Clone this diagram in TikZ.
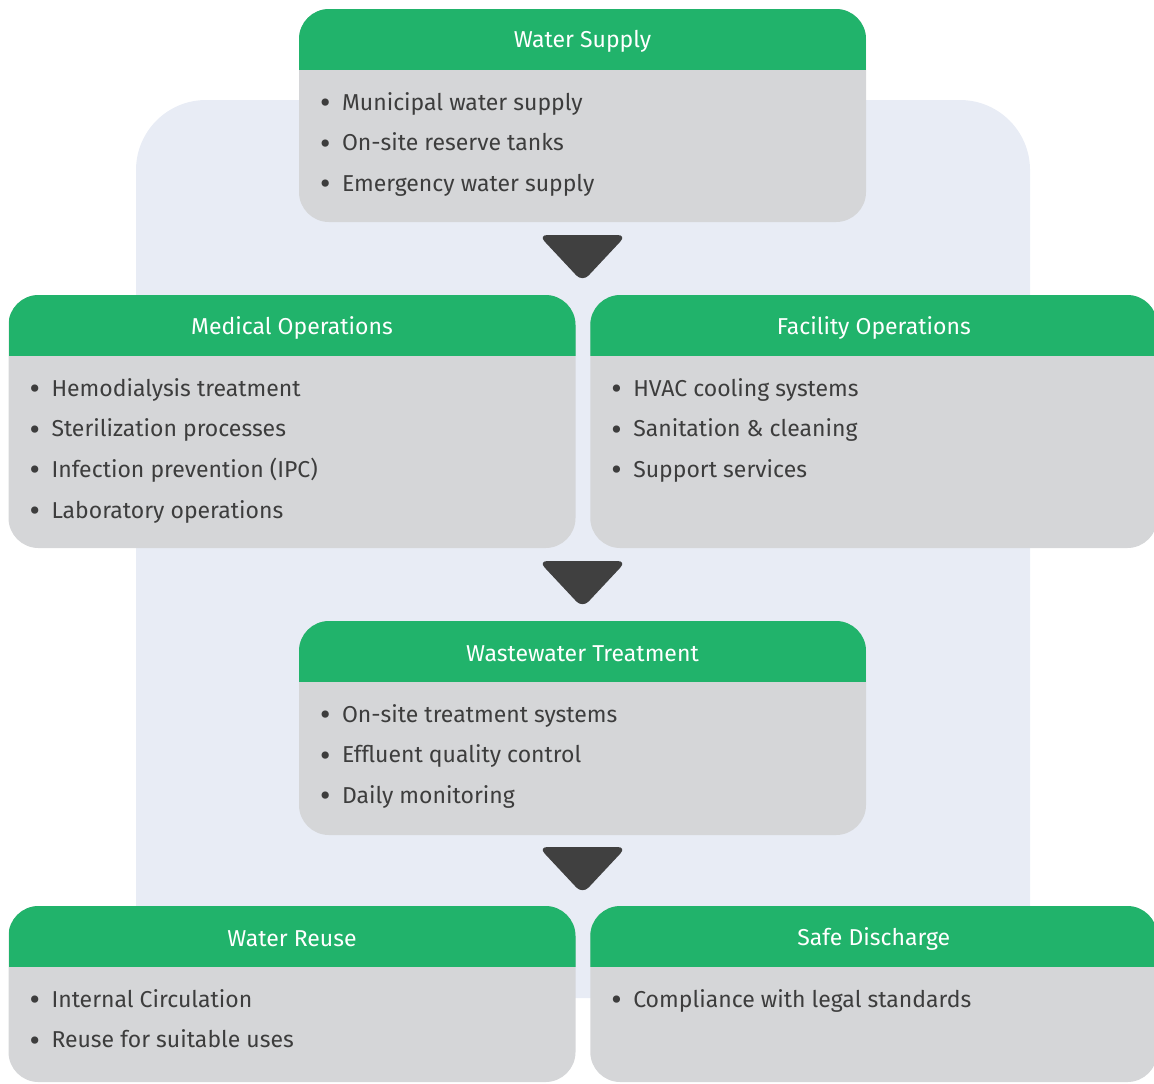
\documentclass[tikz,border=0pt]{standalone}
\usepackage{fontspec}
\setmainfont{Fira Sans}
\usepackage{xcolor}
\usetikzlibrary{positioning, calc}

\definecolor{headgreen}{HTML}{21B36B}
\definecolor{panelgray}{HTML}{D5D6D8}
\definecolor{backblue}{HTML}{E8ECF5}
\definecolor{tipgray}{HTML}{404040}
\definecolor{textgray}{HTML}{3D3D3D}

\begin{document}
\begin{tikzpicture}[
    x=0.5pt, y=-0.5pt,
    every node/.style={font=\fontsize{11.5}{14}\selectfont},
    backdrop/.style={fill=backblue, rounded corners=35pt, inner sep=0pt,
                     minimum width=447pt, minimum height=449pt},
    panel/.style={fill=panelgray, rounded corners=15pt, inner sep=0pt,
                  minimum width=283.5pt, minimum height=#1,
                  path picture={\fill[headgreen, sharp corners]
                    (path picture bounding box.north west) rectangle
                    ([yshift=-30.5pt]path picture bounding box.north east);}},
    headtext/.style={text=white, inner sep=0pt,
                     font=\fontsize{11.5}{14}\selectfont},
    item/.style={text=textgray, inner sep=0pt, text height=9pt, text depth=3pt},
    downtip/.style={fill=tipgray, rounded corners=4.5pt},
]
\useasboundingbox (0,0) rectangle (1154,1083);

% Backdrop
\node[backdrop] (frame) at (583,549) {};

% Water supply
\node[panel=106.5pt] (supply) at (582.5,115.5) {};
\node[headtext] (supplytitle) at ([yshift=-16.5pt]supply.north) {Water Supply};
\node[item, below right=41.5pt and 10.5pt of supply.north west] (supply1)
    {\makebox[11pt][l]{\raisebox{-1.6pt}{\fontsize{16}{14}\selectfont\textbullet}}Municipal water supply};
\node[item, below right=8pt and 0pt of supply1.south west] (supply2)
    {\makebox[11pt][l]{\raisebox{-1.6pt}{\fontsize{16}{14}\selectfont\textbullet}}On-site reserve tanks};
\node[item, below right=8pt and 0pt of supply2.south west] (supply3)
    {\makebox[11pt][l]{\raisebox{-1.6pt}{\fontsize{16}{14}\selectfont\textbullet}}Emergency water supply};

% Medical operations
\node[panel=126.5pt] (medical) at (292,421.5) {};
\node[headtext] (medicaltitle) at ([yshift=-16.5pt]medical.north) {Medical Operations};
\node[item, below right=41.5pt and 10.5pt of medical.north west] (medical1)
    {\makebox[11pt][l]{\raisebox{-1.6pt}{\fontsize{16}{14}\selectfont\textbullet}}Hemodialysis treatment};
\node[item, below right=8pt and 0pt of medical1.south west] (medical2)
    {\makebox[11pt][l]{\raisebox{-1.6pt}{\fontsize{16}{14}\selectfont\textbullet}}Sterilization processes};
\node[item, below right=8pt and 0pt of medical2.south west] (medical3)
    {\makebox[11pt][l]{\raisebox{-1.6pt}{\fontsize{16}{14}\selectfont\textbullet}}Infection prevention (IPC)};
\node[item, below right=8pt and 0pt of medical3.south west] (medical4)
    {\makebox[11pt][l]{\raisebox{-1.6pt}{\fontsize{16}{14}\selectfont\textbullet}}Laboratory operations};

% Facility operations
\node[panel=126.5pt, right=7pt of medical] (facility) {};
\node[headtext] (facilitytitle) at ([yshift=-16.5pt]facility.north) {Facility Operations};
\node[item, below right=41.5pt and 10.5pt of facility.north west] (facility1)
    {\makebox[11pt][l]{\raisebox{-1.6pt}{\fontsize{16}{14}\selectfont\textbullet}}HVAC cooling systems};
\node[item, below right=8pt and 0pt of facility1.south west] (facility2)
    {\makebox[11pt][l]{\raisebox{-1.6pt}{\fontsize{16}{14}\selectfont\textbullet}}Sanitation \& cleaning};
\node[item, below right=8pt and 0pt of facility2.south west] (facility3)
    {\makebox[11pt][l]{\raisebox{-1.6pt}{\fontsize{16}{14}\selectfont\textbullet}}Support services};

% Wastewater treatment
\node[panel=107pt] (treatment) at (582.5,728) {};
\node[headtext] (treatmenttitle) at ([yshift=-16.5pt]treatment.north) {Wastewater Treatment};
\node[item, below right=41.5pt and 10.5pt of treatment.north west] (treatment1)
    {\makebox[11pt][l]{\raisebox{-1.6pt}{\fontsize{16}{14}\selectfont\textbullet}}On-site treatment systems};
\node[item, below right=8pt and 0pt of treatment1.south west] (treatment2)
    {\makebox[11pt][l]{\raisebox{-1.6pt}{\fontsize{16}{14}\selectfont\textbullet}}Effluent quality control};
\node[item, below right=8pt and 0pt of treatment2.south west] (treatment3)
    {\makebox[11pt][l]{\raisebox{-1.6pt}{\fontsize{16}{14}\selectfont\textbullet}}Daily monitoring};

% Water reuse
\node[panel=88pt] (reuse) at (292,994) {};
\node[headtext] (reusetitle) at ([yshift=-16.5pt]reuse.north) {Water Reuse};
\node[item, below right=41.5pt and 10.5pt of reuse.north west] (reuse1)
    {\makebox[11pt][l]{\raisebox{-1.6pt}{\fontsize{16}{14}\selectfont\textbullet}}Internal Circulation};
\node[item, below right=8pt and 0pt of reuse1.south west] (reuse2)
    {\makebox[11pt][l]{\raisebox{-1.6pt}{\fontsize{16}{14}\selectfont\textbullet}}Reuse for suitable uses};

% Safe discharge
\node[panel=88pt, right=7pt of reuse] (discharge) {};
\node[headtext] (dischargetitle) at ([yshift=-16.5pt]discharge.north) {Safe Discharge};
\node[item, below right=41.5pt and 10.5pt of discharge.north west] (discharge1)
    {\makebox[11pt][l]{\raisebox{-1.6pt}{\fontsize{16}{14}\selectfont\textbullet}}Compliance with legal standards};

% Down arrows
\path (supply.south) -- (supply.south |- medical.north) coordinate[midway] (tipa);
\path (treatment.north |- medical.south) -- (treatment.north) coordinate[midway] (tipb);
\path (treatment.south) -- (treatment.south |- reuse.north) coordinate[midway] (tipc);
\fill[downtip] ($(tipa)+(-44,-23.5)$) -- ++(88,0) -- ++(-44,47) -- cycle;
\fill[downtip] ($(tipb)+(-44,-23.5)$) -- ++(88,0) -- ++(-44,47) -- cycle;
\fill[downtip] ($(tipc)+(-44,-23.5)$) -- ++(88,0) -- ++(-44,47) -- cycle;

\end{tikzpicture}
\end{document}
